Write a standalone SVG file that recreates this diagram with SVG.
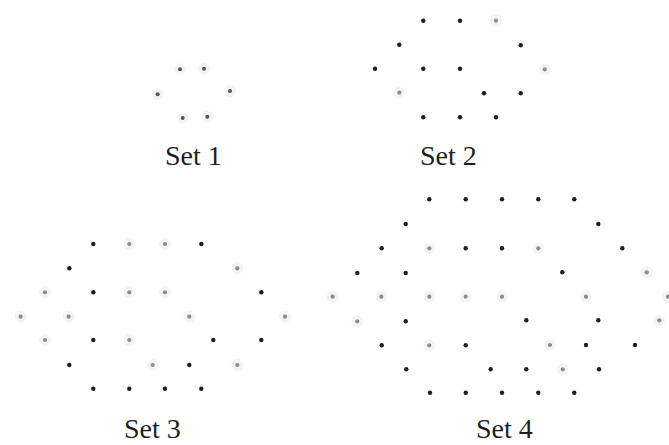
<svg xmlns="http://www.w3.org/2000/svg" width="669" height="445" viewBox="0 0 669 445">
<style>
.b{fill:#1e1e1e}
.g{fill:#8c8c8c}
.m{fill:#555}
.h{fill:#f4f4f4}
.t{font-family:"Liberation Serif","Times New Roman",serif;font-size:28px;fill:#1e1e1e}
</style>
<defs>
<g id="gd"><circle r="6" class="h"/><circle r="2.1" class="g"/></g>
<g id="md"><circle r="6" class="h"/><circle r="2" class="m"/></g>
<circle id="bd" r="2.2" class="b"/>
</defs>
<rect width="669" height="445" fill="#fff"/>
<g id="set1">
<use href="#md" x="180" y="69.3"/>
<use href="#md" x="204" y="68.7"/>
<use href="#md" x="157.7" y="94.3"/>
<use href="#md" x="230" y="91"/>
<use href="#md" x="182.7" y="118"/>
<use href="#md" x="207.3" y="116.7"/>
<text class="t" x="165" y="165">Set 1</text>
</g>
<g id="set2">
<use href="#bd" x="423.3" y="20.7"/>
<use href="#bd" x="460" y="20.7"/>
<use href="#gd" x="496" y="20.7"/>
<use href="#bd" x="399.3" y="44.7"/>
<use href="#bd" x="520.7" y="45.3"/>
<use href="#bd" x="375" y="68.7"/>
<use href="#bd" x="423.3" y="68.7"/>
<use href="#bd" x="460" y="68.7"/>
<use href="#gd" x="544.7" y="69.3"/>
<use href="#gd" x="399.3" y="92.7"/>
<use href="#bd" x="484" y="93.3"/>
<use href="#bd" x="520.7" y="93.3"/>
<use href="#bd" x="423.3" y="117.3"/>
<use href="#bd" x="460" y="117.3"/>
<use href="#bd" x="496" y="117.3"/>
<text class="t" x="420" y="165">Set 2</text>
</g>
<g id="set3">
<use href="#bd" x="93.3" y="244"/>
<use href="#gd" x="129.3" y="244"/>
<use href="#gd" x="165" y="244"/>
<use href="#bd" x="201.3" y="244"/>
<use href="#bd" x="69.3" y="268.3"/>
<use href="#gd" x="237.3" y="268.3"/>
<use href="#gd" x="45" y="292.3"/>
<use href="#bd" x="93.3" y="292.3"/>
<use href="#gd" x="129.3" y="292.3"/>
<use href="#gd" x="165" y="292.3"/>
<use href="#bd" x="261.3" y="292.3"/>
<use href="#gd" x="20.7" y="316.7"/>
<use href="#gd" x="68.7" y="316.7"/>
<use href="#gd" x="189.3" y="316.7"/>
<use href="#gd" x="285" y="316.7"/>
<use href="#gd" x="45" y="340"/>
<use href="#bd" x="93.3" y="340"/>
<use href="#gd" x="129.3" y="340"/>
<use href="#bd" x="213.3" y="340"/>
<use href="#bd" x="261.3" y="340"/>
<use href="#bd" x="69.3" y="365"/>
<use href="#gd" x="152.7" y="365"/>
<use href="#bd" x="189.3" y="365"/>
<use href="#gd" x="237.3" y="365"/>
<use href="#bd" x="93.3" y="388.7"/>
<use href="#bd" x="129.3" y="388.7"/>
<use href="#bd" x="165" y="388.7"/>
<use href="#bd" x="201.3" y="388.7"/>
<text class="t" x="124" y="438">Set 3</text>
</g>
<g id="set4">
<use href="#bd" x="429.3" y="199.3"/>
<use href="#bd" x="465.7" y="199.3"/>
<use href="#bd" x="502" y="199.3"/>
<use href="#bd" x="538.3" y="199.3"/>
<use href="#bd" x="574.3" y="199.3"/>
<use href="#bd" x="405.7" y="224"/>
<use href="#bd" x="598.3" y="224"/>
<use href="#bd" x="381.7" y="248.3"/>
<use href="#gd" x="429.3" y="248.3"/>
<use href="#bd" x="465.7" y="248.3"/>
<use href="#bd" x="502" y="248.3"/>
<use href="#gd" x="538.3" y="248.3"/>
<use href="#bd" x="622.3" y="248.3"/>
<use href="#bd" x="357.3" y="273"/>
<use href="#bd" x="405.7" y="273"/>
<use href="#bd" x="562.3" y="272.3"/>
<use href="#gd" x="646.7" y="272.3"/>
<use href="#gd" x="332.7" y="296.7"/>
<use href="#gd" x="381.3" y="296.7"/>
<use href="#gd" x="429.3" y="296.7"/>
<use href="#gd" x="465.7" y="296.7"/>
<use href="#gd" x="502" y="296.7"/>
<use href="#gd" x="586" y="296.7"/>
<use href="#gd" x="668" y="296.7"/>
<use href="#gd" x="357.3" y="321.3"/>
<use href="#bd" x="405.7" y="321.3"/>
<use href="#bd" x="526.3" y="320.3"/>
<use href="#bd" x="598.3" y="320.3"/>
<use href="#gd" x="659.3" y="320.3"/>
<use href="#bd" x="381.7" y="345.3"/>
<use href="#gd" x="429.3" y="345.3"/>
<use href="#bd" x="465.7" y="345.3"/>
<use href="#gd" x="550" y="345"/>
<use href="#bd" x="586" y="345"/>
<use href="#bd" x="635" y="345"/>
<use href="#bd" x="406.3" y="369.3"/>
<use href="#bd" x="490.7" y="369.3"/>
<use href="#bd" x="526.3" y="369.3"/>
<use href="#gd" x="562.7" y="369.3"/>
<use href="#bd" x="599" y="369.3"/>
<use href="#bd" x="430" y="392.7"/>
<use href="#bd" x="465.7" y="392.7"/>
<use href="#bd" x="502" y="392.7"/>
<use href="#bd" x="538.3" y="392.7"/>
<use href="#bd" x="574.3" y="392.7"/>
<text class="t" x="476" y="438">Set 4</text>
</g>
</svg>
